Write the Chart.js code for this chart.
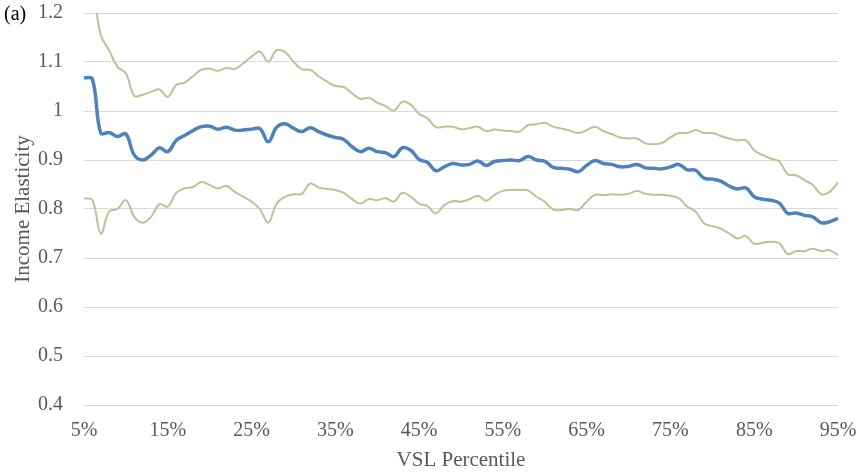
<!DOCTYPE html>
<html>
<head>
<meta charset="utf-8">
<script src="https://cdn.jsdelivr.net/npm/chart.js@4"></script>
<style>
  html, body { margin: 0; padding: 0; background: #fff; }
  #wrap { width: 861px; height: 474px; }
</style>
</head>
<body>
<div id="wrap"><canvas id="elast"></canvas></div>
<script>
const percentiles = [
    "5%","6%","7%","8%","9%","10%","11%","12%","13%","14%",
    "15%","16%","17%","18%","19%","20%","21%","22%","23%","24%",
    "25%","26%","27%","28%","29%","30%","31%","32%","33%","34%",
    "35%","36%","37%","38%","39%","40%","41%","42%","43%","44%",
    "45%","46%","47%","48%","49%","50%","51%","52%","53%","54%",
    "55%","56%","57%","58%","59%","60%","61%","62%","63%","64%",
    "65%","66%","67%","68%","69%","70%","71%","72%","73%","74%",
    "75%","76%","77%","78%","79%","80%","81%","82%","83%","84%",
    "85%","86%","87%","88%","89%","90%","91%","92%","93%","94%",
    "95%",
];

const estimate = [
    1.068,1.065,0.955,0.956,0.948,0.953,0.910,0.900,0.910,0.925,
    0.917,0.940,0.950,0.960,0.968,0.969,0.963,0.967,0.961,0.961,
    0.963,0.964,0.937,0.967,0.974,0.965,0.958,0.966,0.958,0.951,
    0.946,0.942,0.927,0.917,0.924,0.917,0.915,0.907,0.925,0.920,
    0.901,0.895,0.878,0.886,0.893,0.890,0.891,0.898,0.889,0.897,
    0.899,0.900,0.899,0.907,0.900,0.897,0.885,0.883,0.881,0.876,
    0.889,0.899,0.893,0.891,0.886,0.887,0.891,0.884,0.883,0.882,
    0.886,0.891,0.880,0.879,0.863,0.861,0.857,0.847,0.841,0.843,
    0.825,0.820,0.818,0.812,0.791,0.792,0.787,0.784,0.772,0.774,
    0.781,
];

const upperBound = [
    1.320,1.260,1.155,1.124,1.090,1.077,1.031,1.033,1.039,1.044,
    1.029,1.053,1.058,1.071,1.084,1.086,1.082,1.088,1.086,1.097,
    1.111,1.121,1.101,1.124,1.120,1.101,1.085,1.084,1.071,1.060,
    1.051,1.049,1.036,1.025,1.027,1.017,1.010,1.001,1.019,1.013,
    0.994,0.985,0.967,0.968,0.968,0.963,0.965,0.968,0.959,0.962,
    0.960,0.959,0.958,0.971,0.973,0.976,0.968,0.964,0.960,0.955,
    0.961,0.968,0.959,0.953,0.946,0.944,0.944,0.934,0.932,0.935,
    0.946,0.955,0.955,0.961,0.955,0.955,0.949,0.944,0.940,0.940,
    0.920,0.910,0.903,0.897,0.871,0.869,0.859,0.849,0.830,0.835,
    0.854,
];

const lowerBound = [
    0.822,0.818,0.750,0.795,0.800,0.818,0.784,0.772,0.784,0.810,
    0.805,0.833,0.842,0.845,0.855,0.849,0.842,0.847,0.835,0.825,
    0.815,0.800,0.772,0.811,0.825,0.830,0.831,0.852,0.844,0.841,
    0.839,0.833,0.820,0.811,0.820,0.818,0.822,0.815,0.833,0.825,
    0.811,0.806,0.791,0.808,0.816,0.815,0.820,0.827,0.817,0.829,
    0.837,0.839,0.839,0.838,0.825,0.815,0.799,0.798,0.800,0.798,
    0.815,0.829,0.828,0.830,0.829,0.831,0.837,0.831,0.829,0.829,
    0.827,0.822,0.805,0.795,0.771,0.765,0.760,0.750,0.740,0.745,
    0.729,0.731,0.733,0.730,0.708,0.714,0.714,0.719,0.714,0.716,
    0.706,
];

const serif = "'Liberation Serif', 'DejaVu Serif', serif";
const textColor = '#595959';

// "(a)" panel tag in the top-left corner
const panelTag = {
    id: 'panelTag',
    afterDraw(chart) {
        const ctx = chart.ctx;
        ctx.save();
        ctx.font = '20px ' + serif;
        ctx.fillStyle = '#000';
        ctx.textBaseline = 'middle';
        ctx.fillText('(a)', 4, 15);
        ctx.restore();
    }
};

const data = {
    labels: percentiles,
    datasets: [
        {
            label: 'Estimate',
            data: estimate,
            borderColor: 'rgb(79, 129, 189)',
            borderWidth: 3.5,
        },
        {
            label: 'Upper',
            data: upperBound,
            borderColor: 'rgb(196, 189, 151)',
            borderWidth: 2,
        },
        {
            label: 'Lower',
            data: lowerBound,
            borderColor: 'rgb(196, 189, 151)',
            borderWidth: 2,
        },
    ],
};

const config = {
    type: 'line',
    data: data,
    plugins: [panelTag],
    options: {
        responsive: true,
        maintainAspectRatio: false,
        animation: false,
        layout: { padding: { top: 13, right: 23, left: 0, bottom: 0 } },
        elements: {
            point: { radius: 0 },
            line: { tension: 0.4, fill: false },
        },
        plugins: {
            legend: { display: false },
            tooltip: { enabled: false },
        },
        scales: {
            x: {
                offset: false,
                grid: { display: false, drawTicks: false },
                border: { display: false },
                ticks: {
                    autoSkip: false,
                    maxRotation: 0,
                    padding: 14,
                    color: textColor,
                    font: { family: serif, size: 20 },
                    callback: (v, i) => (i % 10 === 0 ? percentiles[i] : null),
                },
                title: {
                    display: true,
                    text: 'VSL Percentile',
                    color: textColor,
                    font: { family: serif, size: 21 },
                    padding: { top: 0, bottom: 1 },
                },
                afterFit: (s) => {
                    s.height = 69;
                    s.paddingLeft = 0;
                    s.paddingRight = 0;
                },
            },
            y: {
                min: 0.4,
                max: 1.2,
                grid: { color: '#d9d9d9', lineWidth: 1, drawTicks: false },
                border: { display: false },
                ticks: {
                    stepSize: 0.1,
                    padding: 21,
                    color: textColor,
                    font: { family: serif, size: 20 },
                    callback: (v) => String(parseFloat(v.toFixed(1))),
                },
                title: {
                    display: true,
                    text: 'Income Elasticity',
                    color: textColor,
                    font: { family: serif, size: 21 },
                    padding: { top: 11, bottom: 0 },
                },
                afterFit: (s) => {
                    s.width = 84;
                    s.paddingTop = 0;
                    s.paddingBottom = 0;
                },
            },
        },
    },
};

const elastChart = new Chart(document.getElementById('elast').getContext('2d'), config);
</script>
</body>
</html>
